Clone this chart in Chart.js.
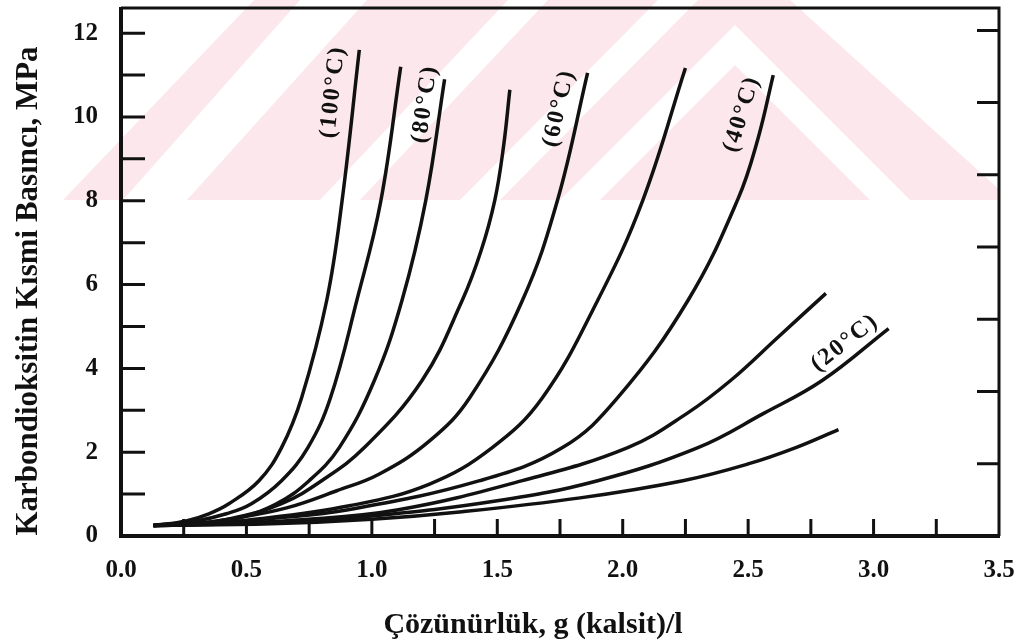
<!DOCTYPE html>
<html>
<head>
<meta charset="utf-8">
<script src="https://cdn.jsdelivr.net/npm/chart.js@4.4.1/dist/chart.umd.min.js"></script>
<style>
  html, body { margin: 0; padding: 0; background: #fff; }
</style>
</head>
<body>
<canvas id="chart" width="1032" height="640"></canvas>
<script>
// curves, hottest (left) to coldest (right)
const seriesNames = ["100°C", "90°C", "80°C", "70°C", "60°C", "50°C", "40°C", "30°C", "20°C", "10°C"];

const x100 = [0.13, 0.26, 0.35, 0.43, 0.55, 0.64, 0.72, 0.82, 0.88, 0.95];
const y100 = [0.25, 0.36, 0.53, 0.77, 1.32, 2.11, 3.30, 5.62, 7.94, 11.6];
const x90 = [0.13, 0.30, 0.42, 0.52, 0.64, 0.745, 0.835, 0.94, 1.035, 1.115];
const y90 = [0.25, 0.36, 0.53, 0.77, 1.32, 2.11, 3.30, 5.62, 7.97, 11.2];
const x80 = [0.13, 0.30, 0.45, 0.62, 0.75, 0.87, 1.01, 1.12, 1.215, 1.29];
const y80 = [0.25, 0.30, 0.40, 0.77, 1.32, 2.11, 3.71, 5.62, 8.01, 10.9];
const x70 = [0.13, 0.30, 0.45, 0.64, 0.80, 0.97, 1.20, 1.36, 1.435, 1.49, 1.525, 1.55];
const y70 = [0.25, 0.30, 0.43, 0.77, 1.32, 2.11, 3.71, 5.62, 6.80, 8.01, 9.30, 10.65];
const x60 = [0.13, 0.30, 0.45, 0.66, 0.86, 1.03, 1.23, 1.39, 1.60, 1.74, 1.86];
const y60 = [0.25, 0.30, 0.42, 0.67, 1.08, 1.48, 2.27, 3.30, 5.62, 8.01, 11.05];
const x50 = [0.13, 0.30, 0.51, 0.91, 1.23, 1.48, 1.68, 1.90, 2.08, 2.25];
const y50 = [0.25, 0.29, 0.38, 0.72, 1.24, 2.11, 3.30, 5.62, 8.01, 11.17];
const x40 = [0.13, 0.35, 0.60, 0.90, 1.43, 1.76, 1.98, 2.26, 2.46, 2.54, 2.60];
const y40 = [0.25, 0.30, 0.42, 0.62, 1.32, 2.11, 3.30, 5.62, 8.05, 9.50, 11.0];
const x30 = [0.13, 0.40, 0.70, 1.10, 1.60, 2.02, 2.255, 2.43, 2.62, 2.81];
const y30 = [0.25, 0.29, 0.38, 0.62, 1.32, 2.11, 2.92, 3.71, 4.75, 5.79];
const x20 = [0.13, 0.60, 1.00, 1.50, 1.90, 2.30, 2.56, 2.795, 3.06];
const y20 = [0.25, 0.32, 0.48, 0.84, 1.32, 2.11, 2.92, 3.71, 4.95];
const x10 = [0.13, 0.60, 1.00, 1.36, 1.83, 2.24, 2.50, 2.69, 2.86];
const y10 = [0.25, 0.29, 0.40, 0.58, 0.91, 1.32, 1.72, 2.11, 2.54];

const seriesX = [x100, x90, x80, x70, x60, x50, x40, x30, x20, x10];
const seriesY = [y100, y90, y80, y70, y60, y50, y40, y30, y20, y10];

// tick labels and tick marks
const xTickLabels = [0, 0.5, 1.0, 1.5, 2.0, 2.5, 3.0, 3.5];
const yTickLabels = [0, 2, 4, 6, 8, 10, 12];
const xTickMarks = [0.25, 0.5, 0.75, 1, 1.25, 1.5, 1.75, 2, 2.25, 2.5, 2.75, 3, 3.25];
const yTickMarks = [1, 2, 3, 4, 5, 6, 7, 8, 9, 10, 11, 12];
const psiTickMarks = [250, 500, 750, 1000, 1250, 1500, 1750]; // right axis, psi
const PSI_PER_MPA = 145.038;

// in-plot curve labels
const curveLabels = ["(100°C)", "(80°C)", "(60°C)", "(40°C)", "(20°C)"];
const curveLabelX = [0.845, 1.212, 1.746, 2.475, 2.886];
const curveLabelY = [10.60, 10.31, 10.21, 10.07, 4.61];
const curveLabelAngle = [-84, -82, -77, -73, -38];

const xTitle = "Çözünürlük, g (kalsit)/l";
const yTitle = "Karbondioksitin Kısmi Basıncı, MPa";

const INK = "#111";
const SERIF = '"Liberation Serif", "Times New Roman", serif';

// faint scanned watermark behind the top of the plot
const wmPink = "#fce8ec";
const wmBase = [[63, 200], [254, 0], [790, 0], [1011, 200]];
const wmCuts = [
  [[123, 200], [300, 0], [367, 0], [187, 200]],
  [[320, 200], [508, 0], [548, 0], [360, 200]],
  [[460, 200], [658, 0], [698, 0], [500, 200]],
  [[560, 200], [735, 25], [910, 200], [870, 200], [735, 65], [600, 200]]
];

function poly(ctx, pts) {
  ctx.beginPath();
  pts.forEach((p, i) => (i ? ctx.lineTo(p[0], p[1]) : ctx.moveTo(p[0], p[1])));
  ctx.closePath();
}

const paperPlugin = {
  id: "paper",
  beforeDraw(chart) {
    const ctx = chart.ctx;
    ctx.save();
    ctx.fillStyle = "#fff";
    ctx.fillRect(0, 0, chart.width, chart.height);
    ctx.beginPath();
    ctx.rect(0, 0, chart.chartArea.right, 200);
    ctx.clip();
    ctx.fillStyle = wmPink;
    poly(ctx, wmBase);
    ctx.fill();
    ctx.fillStyle = "#fff";
    wmCuts.forEach((p) => { poly(ctx, p); ctx.fill(); });
    ctx.restore();
  },
  afterDraw(chart) {
    const ctx = chart.ctx;
    const { left, right, top, bottom } = chart.chartArea;
    const xs = chart.scales.x;
    const ys = chart.scales.y;
    ctx.save();
    ctx.strokeStyle = INK;
    ctx.lineCap = "butt";

    // frame
    ctx.lineWidth = 4;
    ctx.beginPath();
    ctx.moveTo(left, top - 1);
    ctx.lineTo(left, bottom);
    ctx.lineTo(right + 1, bottom);
    ctx.stroke();
    ctx.lineWidth = 3;
    ctx.beginPath();
    ctx.moveTo(left, top);
    ctx.lineTo(right, top);
    ctx.lineTo(right, bottom);
    ctx.stroke();

    // inward tick marks
    ctx.lineWidth = 3;
    ctx.beginPath();
    yTickMarks.forEach((v) => {
      const py = ys.getPixelForValue(v);
      ctx.moveTo(left, py);
      ctx.lineTo(left + 24, py);
    });
    xTickMarks.forEach((v) => {
      const px = xs.getPixelForValue(v);
      ctx.moveTo(px, bottom);
      ctx.lineTo(px, bottom - 17);
    });
    psiTickMarks.forEach((v) => {
      const py = ys.getPixelForValue(v / PSI_PER_MPA);
      ctx.moveTo(right, py);
      ctx.lineTo(right - 22, py);
    });
    ctx.stroke();

    // curve labels
    ctx.fillStyle = INK;
    ctx.font = "bold 24px " + SERIF;
    ctx.letterSpacing = "2px";
    ctx.textAlign = "center";
    ctx.textBaseline = "middle";
    curveLabels.forEach((t, i) => {
      ctx.save();
      ctx.translate(xs.getPixelForValue(curveLabelX[i]), ys.getPixelForValue(curveLabelY[i]));
      ctx.rotate((curveLabelAngle[i] * Math.PI) / 180);
      ctx.fillText(t, 0, 0);
      ctx.restore();
    });
    ctx.letterSpacing = "0px";

    // axis titles
    ctx.font = "bold 30px " + SERIF;
    ctx.textBaseline = "alphabetic";
    ctx.fillText(xTitle, 533, 633);
    ctx.font = "bold 31px " + SERIF;
    ctx.save();
    ctx.translate(37, 291);
    ctx.rotate(-Math.PI / 2);
    ctx.fillText(yTitle, 0, 0);
    ctx.restore();

    ctx.restore();
  }
};

const datasets = seriesNames.map((name, i) => ({
  label: name,
  data: seriesX[i].map((x, j) => ({ x, y: seriesY[i][j] })),
  showLine: true,
  borderColor: INK,
  borderWidth: 3.5,
  pointRadius: 0,
  tension: 0.4,
  fill: false
}));

new Chart(document.getElementById("chart"), {
  type: "scatter",
  data: { datasets },
  plugins: [paperPlugin],
  options: {
    responsive: false,
    animation: false,
    devicePixelRatio: 1,
    layout: { padding: { top: 8, right: 33, left: 0, bottom: 0 } },
    plugins: { legend: { display: false }, tooltip: { enabled: false } },
    scales: {
      x: {
        type: "linear",
        min: 0,
        max: 3.5,
        afterBuildTicks: (s) => { s.ticks = xTickLabels.map((v) => ({ value: v })); },
        afterFit: (s) => { s.height = 104; s.paddingLeft = 0; s.paddingRight = 0; },
        ticks: {
          callback: (v) => Number(v).toFixed(1),
          font: { family: SERIF, size: 25, weight: "bold" },
          color: INK,
          padding: 20,
          maxRotation: 0,
          autoSkip: false
        },
        grid: { display: false, drawTicks: false },
        border: { display: false }
      },
      y: {
        type: "linear",
        min: 0,
        max: 12.6,
        afterBuildTicks: (s) => { s.ticks = yTickLabels.map((v) => ({ value: v })); },
        afterFit: (s) => { s.width = 121; s.paddingTop = 0; s.paddingBottom = 0; },
        ticks: {
          font: { family: SERIF, size: 25, weight: "bold" },
          color: INK,
          padding: 23,
          autoSkip: false
        },
        grid: { display: false, drawTicks: false },
        border: { display: false }
      }
    }
  }
});
</script>
</body>
</html>
